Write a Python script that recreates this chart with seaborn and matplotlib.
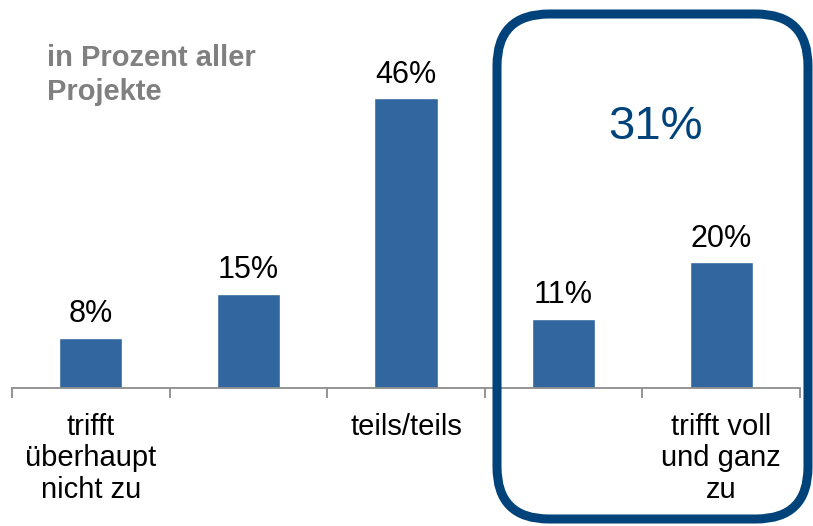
import matplotlib
matplotlib.use("Agg")
import matplotlib.pyplot as plt
from matplotlib.patches import FancyBboxPatch
from matplotlib.transforms import IdentityTransform
import seaborn as sns
import pandas as pd

# Survey answers (share of all projects, %)
categories = ["1", "2", "3", "4", "5"]
values = [8, 15, 46, 11, 20]
tick_labels = ["trifft\nüberhaupt\nnicht zu", "", "teils/teils", "", "trifft voll\nund ganz\nzu"]
top_two_total = 31
note = "in Prozent aller\nProjekte"

sns.set_theme(style="white")
plt.rcParams["font.family"] = ["Liberation Sans", "DejaVu Sans"]

W, H, DPI = 813, 526, 100
fig = plt.figure(figsize=(W / DPI, H / DPI), dpi=DPI)

# axes: x spans category boundaries, baseline at y=388 px from top
left, right = 12, 800
base, top = 388, 10
ax = fig.add_axes([left / W, (H - base) / H, (right - left) / W, (base - top) / H])

df = pd.DataFrame({"cat": categories, "val": values})
bar_color = "#31669f"
sns.barplot(data=df, x="cat", y="val", color=bar_color, width=0.4,
            saturation=1, ax=ax)

ax.set_xlim(-0.5, 4.5)
ax.set_ylim(0, (base - top) / 6.3)
ax.set_xlabel("")
ax.set_ylabel("")
ax.set_yticks([])

for c in ax.containers:
    ax.bar_label(c, labels=[f"{v}%" for v in values], padding=6,
                 fontsize=22, color="black")

for s in ["top", "right", "left"]:
    ax.spines[s].set_visible(False)
ax.spines["bottom"].set_color("#8c8c8c")
ax.spines["bottom"].set_linewidth(1.3)

# boundary ticks pointing down, labels centred under the bars
ax.set_xticks([i - 0.5 for i in range(6)])
ax.set_xticklabels([])
ax.tick_params(axis="x", which="major", direction="out", length=7,
               width=1.3, color="#8c8c8c", bottom=True)
ax.set_xticks(range(5), minor=True)
ax.set_xticklabels(tick_labels, minor=True, fontsize=21, color="black",
                   linespacing=1.15)
ax.tick_params(axis="x", which="minor", length=0, pad=18)

# rounded frame around the two agreeing answers
box_color = "#00437a"
frame = FancyBboxPatch((497, H - 519), 311, 505,
                       boxstyle="round,pad=0,rounding_size=52",
                       transform=IdentityTransform(), fill=False,
                       edgecolor=box_color, linewidth=6.5, clip_on=False,
                       zorder=1)
fig.patches.append(frame)

fig.text(655 / W, 1 - 127 / H, f"{top_two_total}%", fontsize=34,
         color=box_color, ha="center", va="center")

fig.text(47 / W, 1 - 44 / H, note, fontsize=21, fontweight="bold",
         color="#808080", ha="left", va="top", linespacing=1.26)

fig.savefig("out.png", dpi=DPI)
